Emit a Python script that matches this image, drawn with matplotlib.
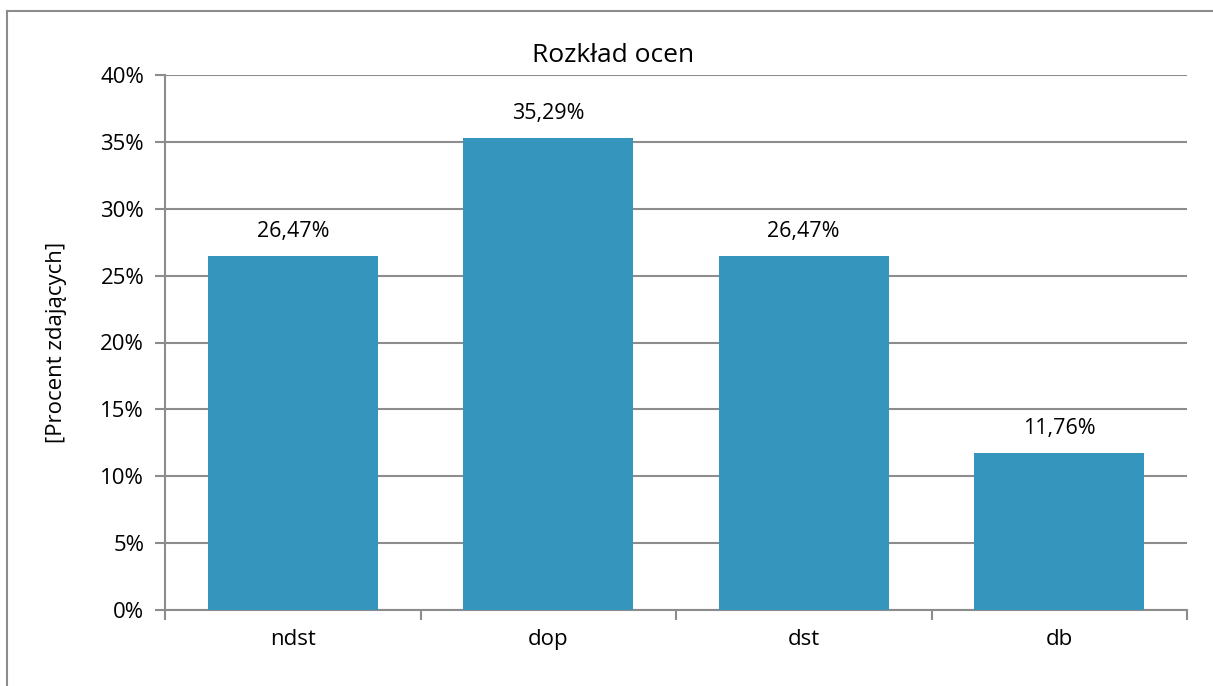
import matplotlib.pyplot as plt
from matplotlib.lines import Line2D
import numpy as np

plt.rcParams['font.family'] = ['Open Sans', 'DejaVu Sans']

# data
categories = ['ndst', 'dop', 'dst', 'db']
values = [26.47, 35.29, 26.47, 11.76]
yticks = [0, 5, 10, 15, 20, 25, 30, 35, 40]

grey = '#8c8c8c'
bar_color = '#3595bc'

fig = plt.figure(figsize=(12.13, 6.86), dpi=100)
ax = fig.add_axes([165/1213, 1 - 610/686, (1187 - 165)/1213, (610 - 75)/686])

x = np.arange(len(categories))
bars = ax.bar(x, values, width=0.665, color=bar_color, zorder=3)

for xi, v in zip(x, values):
    ax.annotate(f'{v:.2f}%'.replace('.', ','), (xi, v), xytext=(0, 10),
                textcoords='offset points', ha='center', va='bottom', fontsize=15.5)

ax.set_xlim(-0.5, len(categories) - 0.5)
ax.set_ylim(0, 40)
ax.set_yticks(yticks)
ax.set_yticklabels([f'{t}%' for t in yticks], fontsize=16)
ax.set_xticks(x)
ax.set_xticklabels(categories, fontsize=16)
ax.set_xticks(np.arange(-0.5, len(categories)), minor=True)
ax.tick_params(axis='x', which='major', length=0, pad=14)
ax.tick_params(axis='x', which='minor', length=7, width=1.5, color=grey, direction='out')
ax.tick_params(axis='y', length=7, width=1.5, color=grey, pad=8)

ax.grid(axis='y', color=grey, linewidth=1.5, zorder=0)
for s in ['top', 'right']:
    ax.spines[s].set_visible(False)
for s in ['left', 'bottom']:
    ax.spines[s].set_color(grey)
    ax.spines[s].set_linewidth(1.5)

# chart title is centred over the whole chart, not the plot area
fig.text(613/1213, 1 - 55/686, 'Rozkład ocen', fontsize=19, ha='center', va='center')
ax.set_ylabel('[Procent zdających]', fontsize=16, labelpad=24)

# outer chart frame
fig.add_artist(Line2D([7/1213, 7/1213], [0, 1 - 11/686], color=grey, lw=1.5,
                      transform=fig.transFigure))
fig.add_artist(Line2D([7/1213, 1], [1 - 11/686, 1 - 11/686], color=grey, lw=1.5,
                      transform=fig.transFigure))

plt.savefig('out.png', dpi=100)
